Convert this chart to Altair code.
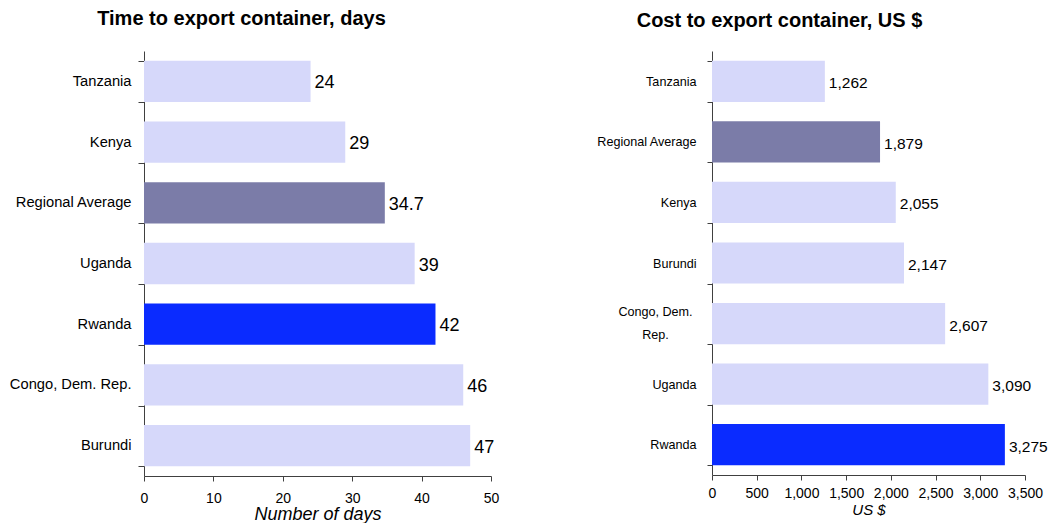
import altair as alt
import pandas as pd

# ---- data ----
time_countries = ["Tanzania", "Kenya", "Regional Average", "Uganda", "Rwanda",
                  "Congo, Dem. Rep.", "Burundi"]
time_days = [24, 29, 34.7, 39, 42, 46, 47]

cost_countries = ["Tanzania", "Regional Average", "Kenya", "Burundi",
                  "Congo, Dem. Rep.", "Uganda", "Rwanda"]
cost_usd = [1262, 1879, 2055, 2147, 2607, 3090, 3275]

time_ticks = [0, 10, 20, 30, 40, 50]
cost_ticks = [0, 500, 1000, 1500, 2000, 2500, 3000, 3500]


def kind_of(c):
    if c == "Rwanda":
        return "Rwanda"
    if c == "Regional Average":
        return "Average"
    return "Other"


df_time = pd.DataFrame({
    "country": time_countries,
    "value": time_days,
    "label": [f"{v:g}" for v in time_days],
    "kind": [kind_of(c) for c in time_countries],
})
df_cost = pd.DataFrame({
    "country": cost_countries,
    "value": cost_usd,
    "label": [f"{v:,}" for v in cost_usd],
    "kind": [kind_of(c) for c in cost_countries],
})

SANS = "Liberation Sans, Arial, sans-serif"
AXIS_COL = "#404040"

color_scale = alt.Scale(domain=["Other", "Average", "Rwanda"],
                        range=["#D6D8FA", "#7B7CA8", "#0A2BFF"])


def panel(df, order, ticks, xmax, xtitle, xtitle_size, tick_font, val_font,
          cat_font, cat_pad, cat_tick, x_pad, x_title_pad, title, title_dx,
          title_offset, w, h, multiline=False):
    y_axis_kwargs = dict(
        title=None, tickBand="extent", tickSize=cat_tick,
        labelFont=SANS, labelFontSize=cat_font, labelColor="black",
        domainColor=AXIS_COL, tickColor=AXIS_COL, labelLimit=400,
        labelPadding=cat_pad,
    )
    if multiline:
        test = "datum.value == 'Congo, Dem. Rep.'"
        y_axis_kwargs["labelExpr"] = (
            "datum.label == 'Congo, Dem. Rep.' ? ['Congo, Dem.', 'Rep.'] : datum.label")
        y_axis_kwargs["labelLineHeight"] = 23
        y_axis_kwargs["labelAlign"] = {"condition": {"test": test, "value": "center"},
                                       "value": "right"}
        y_axis_kwargs["labelPadding"] = {"condition": {"test": test, "value": cat_pad + 41},
                                         "value": cat_pad}
        y_axis_kwargs["labelOffset"] = {"condition": {"test": test, "value": -12},
                                        "value": 0}
    y = alt.Y("country:N", sort=order,
              scale=alt.Scale(paddingInner=0.32, paddingOuter=0.16),
              axis=alt.Axis(**y_axis_kwargs))
    x = alt.X("value:Q", scale=alt.Scale(domain=[0, xmax], nice=False),
              axis=alt.Axis(values=ticks, format=",d", title=xtitle, grid=False,
                            titleFont=SANS, titleFontStyle="italic",
                            titleFontWeight="normal", titleFontSize=xtitle_size,
                            titleColor="black", titlePadding=x_title_pad,
                            labelFont=SANS, labelFontSize=tick_font,
                            labelColor="black", labelPadding=x_pad, tickSize=5,
                            domainColor=AXIS_COL, tickColor=AXIS_COL,
                            labelFlush=False))
    base = alt.Chart(df)
    bars = base.mark_bar().encode(
        x=x, y=y,
        color=alt.Color("kind:N", scale=color_scale, legend=None),
    )
    text = base.mark_text(align="left", baseline="middle", dx=4, dy=2,
                          font=SANS, fontSize=val_font, color="black").encode(
        x=alt.X("value:Q"),
        y=alt.Y("country:N", sort=order),
        text="label:N",
    )
    return alt.layer(bars, text).properties(
        width=w, height=h,
        title=alt.TitleParams(title, font=SANS, fontSize=20, fontWeight="bold",
                              color="black", anchor="middle", dx=title_dx,
                              offset=title_offset),
    )


left = panel(df_time, time_countries, time_ticks, 50, "Number of days", 18,
             14, 18, 14.7, 7, 6, 10, 0, "Time to export container, days", -76,
             14, 347, 425)
right = panel(df_cost, cost_countries, cost_ticks, 3500, "US $", 15,
              14, 15.5, 12.6, 11, 5, 6, 2, "Cost to export container, US $", -89,
              14, 313, 424, multiline=True)

chart = alt.hconcat(left, right, spacing=97).properties(
    padding={"left": 9, "top": 9, "right": 0, "bottom": 0},
    background="white",
).configure_view(stroke=None)

chart.save("out.html", embed_options={"renderer": "svg", "actions": False})
